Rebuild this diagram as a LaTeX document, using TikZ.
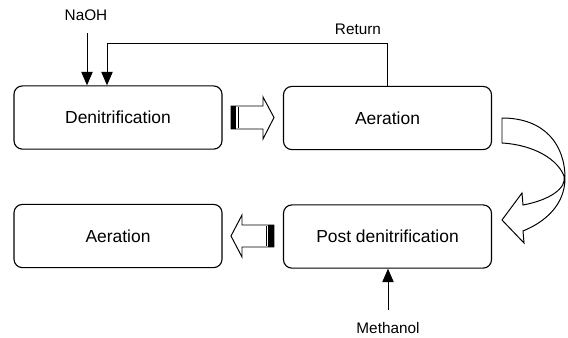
\documentclass[tikz,border=0pt]{standalone}
\usepackage{fontspec}
\setmainfont{Liberation Sans}
\usetikzlibrary{arrows.meta}

\tikzset{
  stage/.style={draw, rounded corners=6pt, minimum width=5.2cm, minimum height=1.58cm,
    line width=0.8pt, font=\fontsize{12.4}{15}\selectfont},
  lbl/.style={font=\fontsize{10.9}{13}\selectfont},
  feed/.style={-{Triangle[length=9.5pt,width=8pt]}, line width=0.7pt},
  blockarrow/.style={line width=0.7pt, line join=miter}
}

\begin{document}
\begin{tikzpicture}[x=0.025cm,y=-0.025cm]
\useasboundingbox (0,0) rectangle (568,337);
\node[stage] (den) at (118,117.5) {Denitrification};
\node[stage] (aer1) at (387.5,118) {Aeration};
\node[stage] (post) at (387.5,236.5) {Post denitrification};
\node[stage] (aer2) at (118,236) {Aeration};
% dosing and return lines
\node[lbl] (naoh) at (86,15) {NaOH};
\coordinate (naohin) at (87,33);
\draw[feed] (naohin) -- (naohin |- den.north);
\node[lbl] (return) at (358,29) {Return};
\coordinate (ret) at (107,43);
\draw[feed] (aer1.north) |- (ret) -- (ret |- den.north);
\node[lbl] (meth) at (388,328) {Methanol};
\coordinate (methin) at (388,310);
\draw[feed] (methin) -- (methin |- post.south);
% block arrows
\draw[blockarrow] (231,106) -- (263,106) -- (263,97) -- (274,117.5) -- (263,139) -- (263,129) -- (231,129) -- cycle;
\fill (231,106) rectangle (236,129);
\draw[line width=0.4pt] (238,107) -- (238,128);
\draw[blockarrow] (274,225) -- (242,225) -- (242,215) -- (231,236) -- (242,257) -- (242,247) -- (274,247) -- cycle;
\fill (274,225) rectangle (268,247);
\draw[line width=0.4pt] (266,226) -- (266,246);
% curved arrow
\draw[blockarrow] (502,118) .. controls (545,118) and (565,145) .. (565,178)
  .. controls (565,205) and (545,222) .. (523,231) -- (524,243) -- (502,220) -- (522,193) -- (523,205)
  .. controls (550,200) and (567,188) .. (564,176) .. controls (558,160) and (535,145) .. (502,143) -- cycle;
\end{tikzpicture}
\end{document}
